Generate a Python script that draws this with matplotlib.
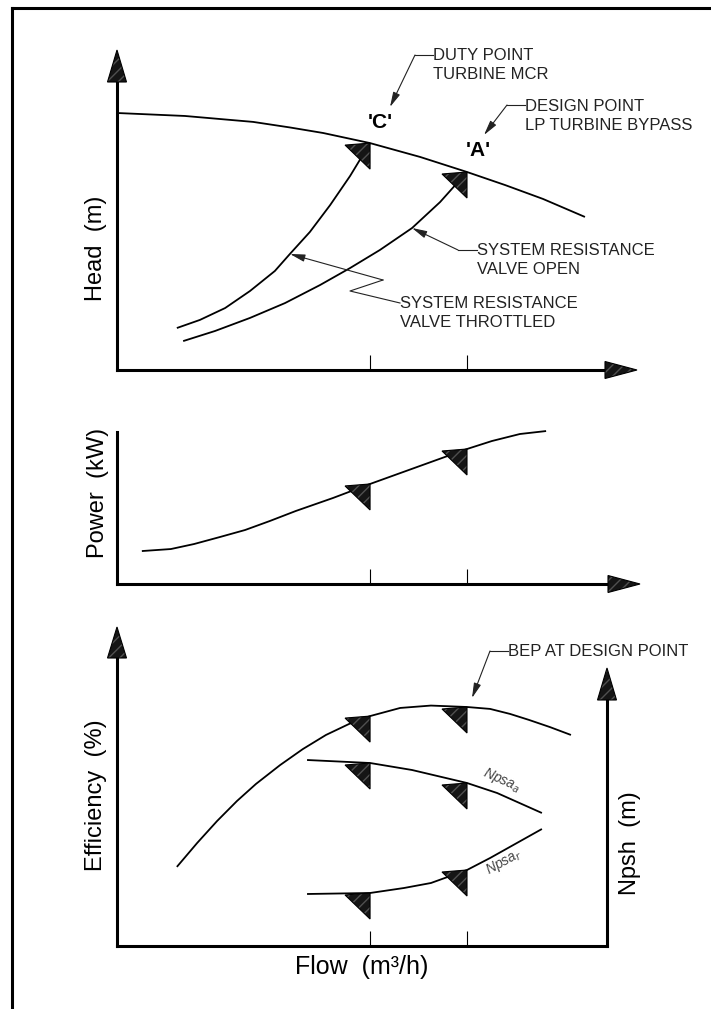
import matplotlib
matplotlib.use("Agg")
import numpy as np
import matplotlib.pyplot as plt
from matplotlib import transforms
from matplotlib.patches import Polygon, FancyArrowPatch
from matplotlib.lines import Line2D

plt.rcParams["font.family"] = ["Liberation Sans", "DejaVu Sans"]

W, H = 711, 1009

# flow given as % of the design point flow ('A' = 100)
flow_c = 72.3
flow_a = 100.0

# head (% of design head)
head_flow = [0, 19.4, 38.9, 49.4, 58.9, 72.3, 86.6, 100, 110.9, 121.7, 133.7]
head_m = [129.8, 128.3, 125.3, 122.5, 119.7, 114.6, 107.6, 100.0, 93.4, 86.4, 77.3]

# system resistance curves
thr_flow = [17.1, 23.7, 30.9, 38.0, 45.1, 49.4, 55.1, 60.9, 66.6, 72.3]
thr_head = [21.2, 25.3, 31.3, 39.9, 50.0, 58.6, 69.7, 83.3, 98.0, 114.6]
open_flow = [18.9, 28.0, 38.0, 48.0, 58.0, 66.6, 75.1, 84.3, 92.3, 100]
open_head = [14.6, 19.7, 26.3, 33.8, 42.9, 51.5, 60.6, 71.7, 84.8, 100]

# power (% of design power)
power_flow = [7.1, 15.4, 22.0, 29.4, 36.6, 43.7, 51.1, 61.7, 72.3, 100, 107.1, 115.1, 122.6]
power_kw = [24.4, 25.9, 29.6, 34.8, 40.0, 46.7, 54.1, 63.7, 74.1, 100, 105.9, 111.1, 113.3]

# efficiency (% of BEP)
eff_flow = [17.1, 22.9, 28.6, 34.3, 39.7, 46.6, 53.1, 59.7, 66.3, 72.3, 80.9,
            89.7, 100, 106.6, 112.3, 117.7, 123.7, 129.7]
eff_pct = [33.1, 43.1, 52.3, 60.7, 67.8, 75.7, 82.4, 88.3, 92.9, 96.2, 99.6,
           100.6, 100, 99.2, 97.1, 94.6, 91.6, 88.3]

# npsh available / required (m)
npsha_flow = [54.3, 72.3, 84.3, 100, 108.6, 121.4]
npsha_m = [9.3, 9.15, 8.8, 8.15, 7.65, 6.65]
npshr_flow = [54.3, 72.3, 82.0, 89.7, 100, 106.6, 121.4]
npshr_m = [2.6, 2.65, 2.9, 3.15, 3.8, 4.4, 5.85]

fig = plt.figure(figsize=(W / 100, H / 100), dpi=100)
px = transforms.Affine2D().scale(1 / W, -1 / H).translate(0, 1) + fig.transFigure

X0 = 117
PX_FLOW = 3.5
AX_LW = 2.2
CURVE = dict(color="black", lw=1.3, solid_joinstyle="round", solid_capstyle="butt")
TRI_FILL = dict(facecolor="#151515", edgecolor="#505050", hatch="///", lw=0)


def panel(top, right, bottom, px_per_unit):
    ax = fig.add_axes([X0 / W, 1 - bottom / H, (right - X0) / W, (bottom - top) / H])
    ax.set_xlim(0, (right - X0) / PX_FLOW)
    ax.set_ylim(0, (bottom - top) / px_per_unit)
    ax.patch.set_visible(False)
    for s in ("top", "right"):
        ax.spines[s].set_visible(False)
    for s in ("left", "bottom"):
        ax.spines[s].set_linewidth(AX_LW)
        ax.spines[s].set_capstyle("projecting")
    ax.set_xticks([flow_c, flow_a])
    ax.tick_params(axis="x", direction="in", length=10.5, width=0.8, labelbottom=False)
    ax.set_yticks([])
    return ax


def arrow_head(pts):
    fig.add_artist(Polygon(pts, closed=True, transform=px, **TRI_FILL))
    fig.add_artist(Polygon(pts, closed=True, transform=px, fill=False,
                           edgecolor="black", lw=0.8))


def point_tri(ax, x, y):
    tr = fig.dpi_scale_trans + transforms.ScaledTranslation(x, y, ax.transData)
    verts = [(0, 0), (-0.25, -0.02), (0, -0.26)]
    ax.add_patch(Polygon(verts, closed=True, transform=tr, clip_on=False, zorder=3, **TRI_FILL))
    ax.add_patch(Polygon(verts, closed=True, transform=tr, fill=False,
                         edgecolor="black", lw=0.8, clip_on=False, zorder=3))


def leader(pts):
    xs = [p[0] for p in pts[:-1]]
    ys = [p[1] for p in pts[:-1]]
    fig.add_artist(Line2D(xs, ys, transform=px, color="#222222", lw=0.8))
    fig.add_artist(FancyArrowPatch(pts[-2], pts[-1], transform=px,
                                   arrowstyle="-|>,head_length=0.9,head_width=0.22",
                                   mutation_scale=10, lw=0.8, color="#222222",
                                   shrinkA=0, shrinkB=0))


def note(x, y, s, size=12, **kw):
    fig.text(x, y, s, transform=px, fontsize=size, color="#222222",
             ha=kw.pop("ha", "left"), va=kw.pop("va", "center"), linespacing=1.28, **kw)


# ---- border
fig.add_artist(Line2D([12, 711], [8, 8], transform=px, color="black", lw=2.2))
fig.add_artist(Line2D([12, 12], [8, 1009], transform=px, color="black", lw=2.2))

# ---- head panel
ax_h = panel(82, 605, 370, 1.98)
ax_h.plot(head_flow, head_m, clip_on=False, **CURVE)
ax_h.plot(thr_flow, thr_head, clip_on=False, **CURVE)
ax_h.plot(open_flow, open_head, clip_on=False, **CURVE)
point_tri(ax_h, flow_c, np.interp(flow_c, thr_flow, thr_head))
point_tri(ax_h, flow_a, np.interp(flow_a, open_flow, open_head))
arrow_head([(117, 50), (107.5, 82), (126.5, 82)])
arrow_head([(637, 370), (605, 361.5), (605, 378.5)])

fig.text(96, 248, "Head  (m)", transform=px, rotation=90, fontsize=17,
         ha="center", va="center")
fig.text(380, 122, "'C'", transform=px, fontsize=15, fontweight="bold",
         ha="center", va="center")
fig.text(478, 150, "'A'", transform=px, fontsize=15, fontweight="bold",
         ha="center", va="center")

note(433, 65, "DUTY POINT\nTURBINE MCR")
leader([(433, 55), (415, 55), (390, 107)])
note(525, 116, "DESIGN POINT\nLP TURBINE BYPASS")
leader([(525, 105), (507, 105), (484, 135)])
note(477, 260, "SYSTEM RESISTANCE\nVALVE OPEN")
leader([(477, 250), (458, 250), (412, 228)])
note(400, 313, "SYSTEM RESISTANCE\nVALVE THROTTLED")
leader([(400, 303), (350, 291), (383, 280), (290, 254)])

# ---- power panel
ax_p = panel(432, 608, 584, 1.35)
ax_p.plot(power_flow, power_kw, clip_on=False, **CURVE)
point_tri(ax_p, flow_c, np.interp(flow_c, power_flow, power_kw))
point_tri(ax_p, flow_a, np.interp(flow_a, power_flow, power_kw))
arrow_head([(640, 584), (608, 575.5), (608, 592.5)])
fig.text(98, 493, "Power  (kW)", transform=px, rotation=90, fontsize=17,
         ha="center", va="center")

# ---- efficiency / npsh panel
ax_e = panel(658, 607, 946, 2.39)
ax_e.plot(eff_flow, eff_pct, clip_on=False, **CURVE)
point_tri(ax_e, flow_c, np.interp(flow_c, eff_flow, eff_pct))
point_tri(ax_e, flow_a, np.interp(flow_a, eff_flow, eff_pct))

ax_n = ax_e.twinx()
ax_n.set_ylim(0, (946 - 658) / 20)
for s in ("top", "left", "bottom"):
    ax_n.spines[s].set_visible(False)
ax_n.spines["right"].set_linewidth(AX_LW)
ax_n.spines["right"].set_capstyle("projecting")
ax_n.spines["right"].set_bounds(0, (946 - 700) / 20)
ax_n.set_yticks([])
ax_n.plot(npsha_flow, npsha_m, clip_on=False, **CURVE)
ax_n.plot(npshr_flow, npshr_m, clip_on=False, **CURVE)
for fl, vals in ((npsha_flow, npsha_m), (npshr_flow, npshr_m)):
    point_tri(ax_n, flow_c, np.interp(flow_c, fl, vals))
    point_tri(ax_n, flow_a, np.interp(flow_a, fl, vals))

arrow_head([(117, 627), (107.5, 658), (126.5, 658)])
arrow_head([(607, 668), (597.5, 700), (616.5, 700)])

fig.text(96, 795, "Efficiency  (%)", transform=px, rotation=90, fontsize=17,
         ha="center", va="center")
fig.text(630, 843, "Npsh  (m)", transform=px, rotation=90, fontsize=17,
         ha="center", va="center")
fig.text(362, 967, "Flow  (m\u00b3/h)", transform=px, fontsize=18,
         ha="center", va="center")

fig.text(502, 780, "Npsa$_a$", transform=px, rotation=-24, fontsize=10,
         color="#444444", style="italic", ha="center", va="center")
fig.text(504, 862, "Npsa$_r$", transform=px, rotation=29, fontsize=10,
         color="#444444", style="italic", ha="center", va="center")

note(508, 651, "BEP AT DESIGN POINT")
leader([(508, 651), (490, 651), (472, 698)])

fig.savefig("out.png", dpi=100, facecolor="white")
